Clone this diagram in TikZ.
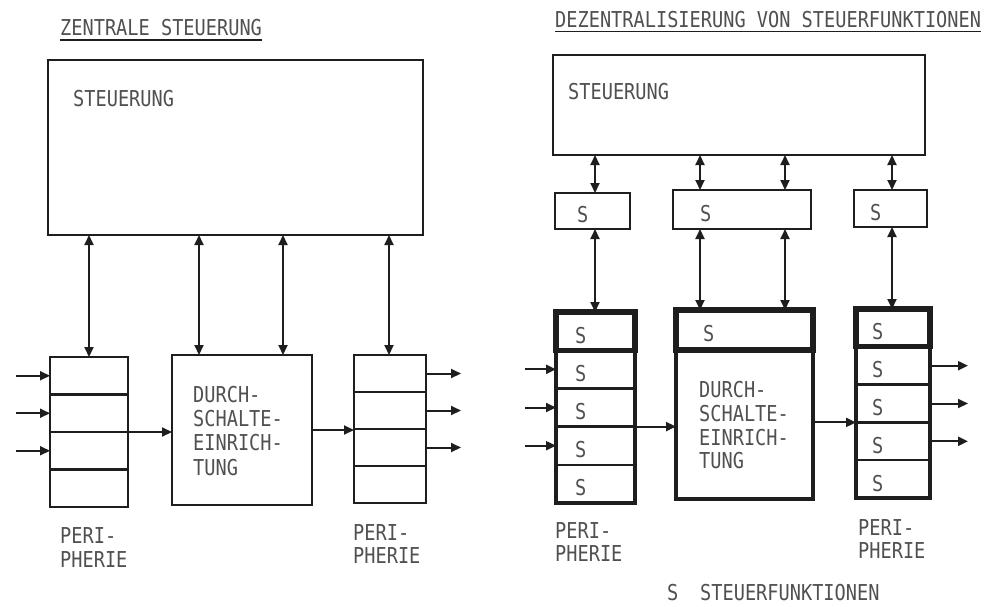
\documentclass[tikz,border=0pt]{standalone}
\usepackage{fontspec}
\newfontfamily\typefont[FakeStretch=0.85]{DejaVu Sans Mono}
\usetikzlibrary{arrows.meta}
\definecolor{linec}{HTML}{1E1E1E}
\definecolor{txtc}{HTML}{505050}
\begin{document}
\begin{tikzpicture}[x=1pt,y=-1pt,
  lbl/.style={font=\typefont\fontsize{21.9}{24}\selectfont, text=txtc, inner sep=0pt, anchor=base west},
  slbl/.style={font=\typefont\fontsize{21.9}{24}\selectfont, text=txtc, inner sep=0pt, anchor=west},
  blk/.style={draw=linec, line width=2.4pt, inner sep=0pt, outer sep=0pt},
  thk/.style={draw=linec, line width=3.8pt, inner sep=0pt, outer sep=0pt},
  thkk/.style={draw=linec, line width=5.2pt, inner sep=0pt, outer sep=0pt},
  uline/.style={draw=linec, line width=1.4pt},
  arr/.style={draw=linec, line width=2pt, -{Triangle[length=10pt,width=9pt]}},
  dbl/.style={draw=linec, line width=2pt, {Triangle[length=10pt,width=9pt]}-{Triangle[length=10pt,width=9pt]}}]
\useasboundingbox[fill=white] (0,0) rectangle (988,606);

% ================= LEFT: ZENTRALE STEUERUNG =================
\node[lbl] (tL) at (60,35) {ZENTRALE STEUERUNG};
\draw[uline] ([yshift=-5pt]tL.base west) -- ([yshift=-5pt]tL.base east);

\node[blk, minimum width=375pt, minimum height=175pt] (ctrlL) at (235.5,147.5) {};
\node[lbl] (stL) at (73,106) {STEUERUNG};

% left periphery
\foreach \i in {1,...,4}
  \node[blk, minimum width=78pt, minimum height=37.5pt] (pL\i) at (89,{357+37.5*(\i-0.5)}) {};
\node[blk, minimum width=78pt, minimum height=150pt] (perL) at (89,432) {};

% switching unit
\node[blk, minimum width=140pt, minimum height=150pt] (dsL) at (242,430) {};
\node[lbl] (dsLa) at (193,402) {DURCH-};
\node[lbl] (dsLb) at (193,426.5) {SCHALTE-};
\node[lbl] (dsLc) at (193,450.5) {EINRICH-};
\node[lbl] (dsLd) at (193,475) {TUNG};

% right periphery
\foreach \i in {1,...,4}
  \node[blk, minimum width=72pt, minimum height=37pt] (qL\i) at (390,{355+37*(\i-0.5)}) {};
\node[blk, minimum width=72pt, minimum height=148pt] (perR) at (390,429) {};

\node[lbl] (pl1a) at (60,543) {PERI-};
\node[lbl] (pl1b) at (60,567) {PHERIE};
\node[lbl] (pl2a) at (353,540) {PERI-};
\node[lbl] (pl2b) at (353,563) {PHERIE};

% connectors
\coordinate (vL1) at (89,0);
\coordinate (vL2) at (199,0);
\coordinate (vL3) at (283,0);
\coordinate (vL4) at (389,0);
\draw[dbl] (ctrlL.south -| vL1) -- (perL.north -| vL1);
\draw[dbl] (ctrlL.south -| vL2) -- (dsL.north -| vL2);
\draw[dbl] (ctrlL.south -| vL3) -- (dsL.north -| vL3);
\draw[dbl] (ctrlL.south -| vL4) -- (perR.north -| vL4);

\coordinate (inL) at (16,0);
\foreach \i in {1,2,3}
  \draw[arr] (pL\i.west -| inL) -- (pL\i.west);
\draw[arr] (perL.east) -- (perL.east -| dsL.west);
\draw[arr] (dsL.east) -- (dsL.east -| perR.west);
\coordinate (outL) at (461,0);
\foreach \i in {1,2,3}
  \draw[arr] (qL\i.east) -- (qL\i.east -| outL);

% ================= RIGHT: DEZENTRALISIERUNG =================
\node[lbl] (tR) at (555,27) {DEZENTRALISIERUNG VON STEUERFUNKTIONEN};
\draw[uline] ([yshift=-4.5pt]tR.base west) -- ([yshift=-4.5pt]tR.base east);

\node[blk, minimum width=372pt, minimum height=100pt] (ctrlR) at (739,105) {};
\node[lbl] (stR) at (568,99) {STEUERUNG};

% S boxes
\node[blk, minimum width=75pt, minimum height=36pt] (sA) at (592.5,211) {};
\node[blk, minimum width=138pt, minimum height=39pt] (sB) at (742,209.5) {};
\node[blk, minimum width=73pt, minimum height=37pt] (sC) at (890.5,208.5) {};
\node[slbl] (sAt) at ([xshift=22pt,yshift=-4pt]sA.west) {S};
\node[slbl] (sBt) at ([xshift=27pt,yshift=-4pt]sB.west) {S};
\node[slbl] (sCt) at ([xshift=16pt,yshift=-4pt]sC.west) {S};

% left periphery with S cells
\foreach \i in {1,...,5}{
  \node[blk, minimum width=79pt, minimum height=38.2pt] (rA\i) at (595.5,{312+38.2*(\i-0.5)}) {};
  \node[slbl] (rAt\i) at ([xshift=19pt,yshift=-4pt]rA\i.west) {S};
}
\node[thk, minimum width=79pt, minimum height=191pt] (perA) at (595.5,407.5) {};
\node[thkk, minimum width=79pt, minimum height=38.2pt] (rAtop) at (595.5,331.1) {};

% switching unit with S
\node[thk, minimum width=137pt, minimum height=189pt] (dsR) at (744.5,404.5) {};
\node[thkk, minimum width=137pt, minimum height=40pt] (dsRs) at (744.5,330) {};
\node[slbl] (dsRst) at ([xshift=27pt,yshift=-4pt]dsRs.west) {S};
\node[lbl] (dsRa) at (699,397) {DURCH-};
\node[lbl] (dsRb) at (699,421) {SCHALTE-};
\node[lbl] (dsRc) at (699,445) {EINRICH-};
\node[lbl] (dsRd) at (699,468) {TUNG};

% right periphery with S cells
\foreach \i in {1,...,5}{
  \node[blk, minimum width=74pt, minimum height=37.8pt] (rC\i) at (893,{309+37.8*(\i-0.5)}) {};
  \node[slbl] (rCt\i) at ([xshift=16pt,yshift=-4pt]rC\i.west) {S};
}
\node[thk, minimum width=74pt, minimum height=189pt] (perC) at (893,403.5) {};
\node[thkk, minimum width=74pt, minimum height=37.8pt] (rCtop) at (893,327.9) {};

\node[lbl] (pr1a) at (555,538) {PERI-};
\node[lbl] (pr1b) at (555,561) {PHERIE};
\node[lbl] (pr2a) at (858,535) {PERI-};
\node[lbl] (pr2b) at (858,558) {PHERIE};

\node[lbl] (legS) at (667,600) {S};
\node[lbl] (legT) at (700,600) {STEUERFUNKTIONEN};

% connectors
\coordinate (vR1) at (595,0);
\coordinate (vR2) at (700,0);
\coordinate (vR3) at (785,0);
\coordinate (vR4) at (892,0);
\draw[dbl] (ctrlR.south -| vR1) -- (sA.north -| vR1);
\draw[dbl] (ctrlR.south -| vR2) -- (sB.north -| vR2);
\draw[dbl] (ctrlR.south -| vR3) -- (sB.north -| vR3);
\draw[dbl] (ctrlR.south -| vR4) -- (sC.north -| vR4);
\draw[dbl] (sA.south -| vR1) -- (perA.north -| vR1);
\draw[dbl] (sB.south -| vR2) -- (dsR.north -| vR2);
\draw[dbl] (sB.south -| vR3) -- (dsR.north -| vR3);
\draw[dbl] (sC.south -| vR4) -- (perC.north -| vR4);

\coordinate (inR) at (525,0);
\foreach \i in {2,3,4}
  \draw[arr] (rA\i.west -| inR) -- (rA\i.west);
\draw[arr] (rA3.south east) -- (rA3.south east -| dsR.west);
\draw[arr] (rC3.south west -| dsR.east) -- (rC3.south west);
\coordinate (outR) at (968,0);
\foreach \i in {2,3,4}
  \draw[arr] (rC\i.east) -- (rC\i.east -| outR);
\end{tikzpicture}
\end{document}
